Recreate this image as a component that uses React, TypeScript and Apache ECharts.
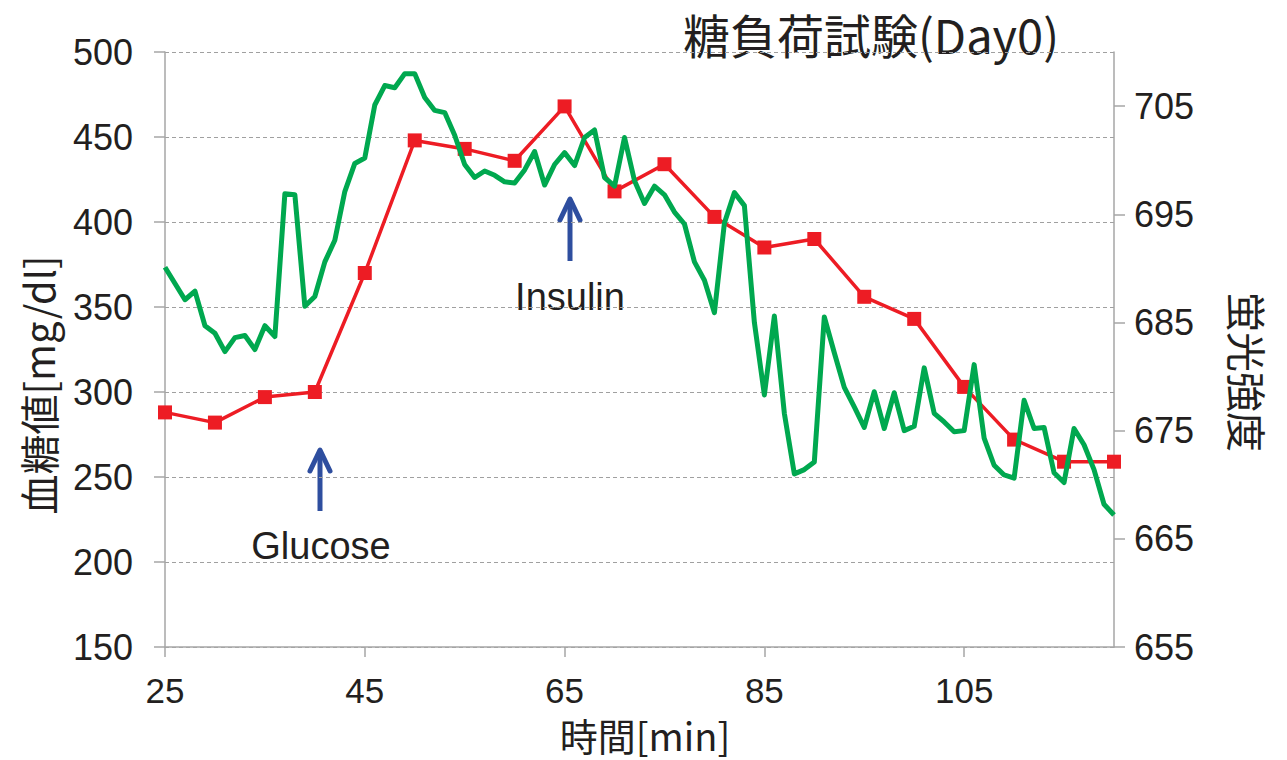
import React, { useEffect, useRef } from "react";
import * as echarts from "echarts";

const titleText = "糖負荷試験(Day0)";
const xName = "時間[min]";
const yLeftName = "血糖値[mg/dl]";
const yRightName = "蛍光強度";

const xTicks = [25, 45, 65, 85, 105];
const rightTicks = [655, 665, 675, 685, 695, 705];

const glucoseTimes = [25, 30, 35, 40, 45, 50, 55, 60, 65, 70, 75, 80, 85, 90, 95, 100, 105, 110, 115, 120];
const glucoseValues = [288, 282, 297, 300, 370, 448, 443, 436, 468, 418, 434, 403, 385, 390, 356, 343, 303, 272, 259, 259];

const fluorTimes = [
  25, 26, 27, 28, 29, 30, 31, 32, 33, 34, 35, 36, 37, 38, 39, 40, 41, 42, 43, 44,
  45, 46, 47, 48, 49, 50, 51, 52, 53, 54, 55, 56, 57, 58, 59, 60, 61, 62, 63, 64,
  65, 66, 67, 68, 69, 70, 71, 72, 73, 74, 75, 76, 77, 78, 79, 80, 81, 82, 83, 84,
  85, 86, 87, 88, 89, 90, 91, 92, 93, 94, 95, 96, 97, 98, 99, 100, 101, 102, 103, 104,
  105, 106, 107, 108, 109, 110, 111, 112, 113, 114, 115, 116, 117, 118, 119, 120,
];
const fluorValues = [
  690.1, 688.6, 687.1, 687.9, 684.7, 684.0, 682.3, 683.6, 683.8, 682.5, 684.7, 683.7, 696.9, 696.8, 686.5, 687.4, 690.6, 692.6, 697.1, 699.7,
  700.2, 705.1, 706.9, 706.7, 708.0, 708.0, 705.8, 704.6, 704.4, 702.3, 699.6, 698.4, 699.0, 698.6, 698.0, 697.9, 699.1, 700.8, 697.7, 699.6,
  700.7, 699.5, 702.1, 702.8, 698.4, 697.6, 702.1, 698.1, 696.0, 697.6, 696.8, 695.2, 694.1, 690.6, 688.9, 685.9, 694.2, 697.0, 695.8, 685.0,
  678.3, 685.6, 676.6, 671.0, 671.4, 672.1, 685.5, 682.2, 679.0, 677.2, 675.3, 678.6, 675.2, 678.5, 675.0, 675.4, 680.8, 676.6, 675.8, 674.9,
  675.0, 681.1, 674.3, 671.8, 670.9, 670.6, 677.8, 675.2, 675.3, 671.1, 670.2, 675.2, 673.7, 671.4, 668.2, 667.2,
];

const LATIN = "'Liberation Sans', Arial, 'Noto Sans CJK JP', sans-serif";
const CJK = "'Noto Sans CJK JP', 'Liberation Sans', sans-serif";
const AXIS_GRAY = "#A6A6A6";
const ARROW_BLUE = "#2E4E9F";

function arrow(x: number, tipY: number, bottomY: number) {
  return {
    type: "group",
    children: [
      {
        type: "line",
        shape: { x1: x, y1: tipY + 2, x2: x, y2: bottomY },
        style: { stroke: ARROW_BLUE, lineWidth: 5 },
      },
      {
        type: "polyline",
        shape: { points: [[x - 10, tipY + 22], [x, tipY + 1], [x + 10, tipY + 22]] },
        style: { stroke: ARROW_BLUE, lineWidth: 5, fill: "none", lineJoin: "round", lineCap: "round" },
      },
    ],
  };
}

export default function App() {
  const ref = useRef<HTMLDivElement>(null);

  useEffect(() => {
    document.body.style.margin = "0";
    if (!ref.current) return;
    const chart = echarts.init(ref.current, undefined, { renderer: "svg" });
    chart.setOption({
      animation: false,
      backgroundColor: "#ffffff",
      grid: { left: 165, right: 173, top: 52, bottom: 113, containLabel: false },
      xAxis: {
        type: "value",
        min: 25,
        max: 120,
        axisLine: { show: true, lineStyle: { color: AXIS_GRAY, width: 1.5 } },
        axisTick: { show: true, customValues: xTicks, length: 10, lineStyle: { color: AXIS_GRAY, width: 1.5 } },
        axisLabel: { customValues: xTicks, fontFamily: LATIN, fontSize: 35, color: "#231F20", margin: 26 },
        splitLine: { show: false },
      },
      yAxis: [
        {
          type: "value",
          min: 150,
          max: 500,
          interval: 50,
          position: "left",
          axisLine: { show: true, lineStyle: { color: AXIS_GRAY, width: 1.5 } },
          axisTick: { show: true, length: 11, lineStyle: { color: AXIS_GRAY, width: 1.5 } },
          axisLabel: { fontFamily: LATIN, fontSize: 36, color: "#231F20", margin: 32 },
          splitLine: { show: true, lineStyle: { color: "#A0A0A0", width: 1.2, type: [4, 3] } },
        },
        {
          type: "value",
          min: 655,
          max: 710,
          position: "right",
          axisLine: { show: true, lineStyle: { color: AXIS_GRAY, width: 1.5 } },
          axisTick: { show: true, customValues: rightTicks, length: 11, lineStyle: { color: AXIS_GRAY, width: 1.5 } },
          axisLabel: { customValues: rightTicks, fontFamily: LATIN, fontSize: 36, color: "#231F20", margin: 20 },
          splitLine: { show: false },
        },
      ],
      graphic: [
        {
          type: "text",
          x: 871,
          y: 33,
          style: { text: titleText, font: `47px ${CJK}`, fill: "#231F20", align: "center", verticalAlign: "middle" },
        },
        {
          type: "text",
          x: 645,
          y: 734,
          style: { text: xName, font: `38px ${CJK}`, fill: "#231F20", align: "center", verticalAlign: "middle" },
        },
        {
          type: "text",
          x: 38,
          y: 385,
          rotation: Math.PI / 2,
          style: { text: yLeftName, font: `40px ${CJK}`, fill: "#231F20", align: "center", verticalAlign: "middle" },
        },
        {
          type: "text",
          x: 1248,
          y: 372,
          rotation: -Math.PI / 2,
          style: { text: yRightName, font: `40px ${CJK}`, fill: "#231F20", align: "center", verticalAlign: "middle" },
        },
        {
          type: "text",
          x: 321,
          y: 546,
          style: { text: "Glucose", font: `38px ${LATIN}`, fill: "#231F20", align: "center", verticalAlign: "middle" },
        },
        {
          type: "text",
          x: 570,
          y: 297,
          style: { text: "Insulin", font: `38px ${LATIN}`, fill: "#231F20", align: "center", verticalAlign: "middle" },
        },
        arrow(320, 449, 511),
        arrow(570, 198, 261),
      ],
      series: [
        {
          name: yLeftName,
          type: "line",
          yAxisIndex: 0,
          data: glucoseTimes.map((t, i) => [t, glucoseValues[i]]),
          symbol: "rect",
          symbolSize: 14,
          itemStyle: { color: "#ED1C24" },
          lineStyle: { color: "#ED1C24", width: 3.5 },
          z: 2,
        },
        {
          name: yRightName,
          type: "line",
          yAxisIndex: 1,
          data: fluorTimes.map((t, i) => [t, fluorValues[i]]),
          showSymbol: false,
          symbol: "none",
          itemStyle: { color: "#00A84F" },
          lineStyle: { color: "#00A84F", width: 5, join: "round" },
          z: 3,
        },
      ],
    });
    return () => chart.dispose();
  }, []);

  return <div ref={ref} style={{ width: 1287, height: 760 }} />;
}
